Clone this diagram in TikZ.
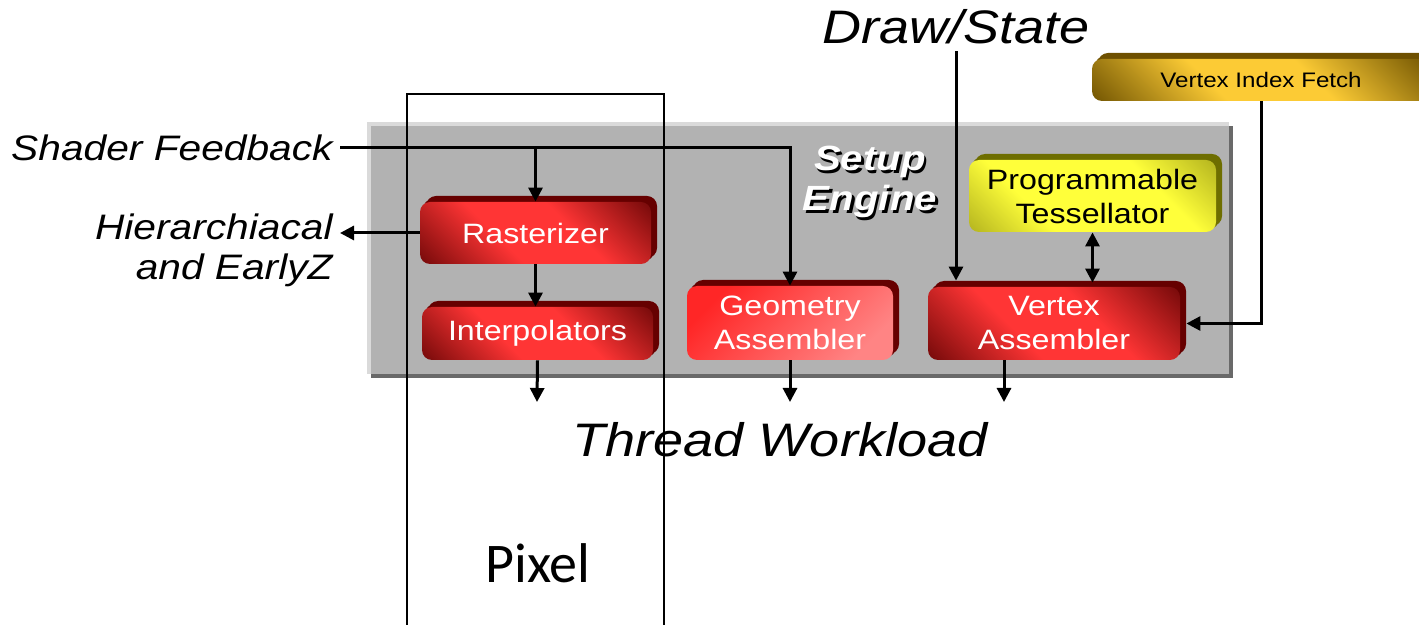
\documentclass[tikz,border=0pt]{standalone}
\usepackage{fontspec}
\setmainfont[FakeStretch=1.15]{Liberation Sans}
\newfontfamily\pixelfont{Carlito}
\usetikzlibrary{arrows.meta,shadows}

\definecolor{panelgray}{RGB}{178, 178, 178}
\definecolor{panellight}{RGB}{218, 218, 218}
\definecolor{paneldark}{RGB}{105, 105, 105}
\definecolor{redbright}{RGB}{255, 53, 53}
\definecolor{reddark}{RGB}{125, 12, 12}
\definecolor{reddepth}{RGB}{102, 0, 0}
\definecolor{redlight}{RGB}{255, 38, 38}
\definecolor{pinklight}{RGB}{255, 132, 132}
\definecolor{yellowbright}{RGB}{255, 255, 58}
\definecolor{yellowdark}{RGB}{178, 178, 30}
\definecolor{yellowdepth}{RGB}{110, 110, 0}
\definecolor{goldbright}{RGB}{252, 203, 53}
\definecolor{golddark}{RGB}{122, 92, 5}
\definecolor{golddepth}{RGB}{110, 80, 0}

\pgfdeclareverticalshading{redglow}{100bp}{color(0bp)=(reddark); color(16bp)=(reddark); color(40bp)=(redbright); color(60bp)=(redbright); color(84bp)=(reddark); color(100bp)=(reddark)}
\pgfdeclareverticalshading{yellowglow}{100bp}{color(0bp)=(yellowdark); color(14bp)=(yellowdark); color(34bp)=(yellowbright); color(66bp)=(yellowbright); color(86bp)=(yellowdark); color(100bp)=(yellowdark)}
\pgfdeclareverticalshading{goldglow}{100bp}{color(0bp)=(golddark); color(16bp)=(golddark); color(40bp)=(goldbright); color(60bp)=(goldbright); color(84bp)=(golddark); color(100bp)=(golddark)}

\tikzset{
    conn/.style={line width=1.5pt, -{Triangle[length=7pt, width=7pt]}},
    biconn/.style={line width=1.5pt, {Triangle[length=7pt, width=7pt]}-{Triangle[length=7pt, width=7pt]}},
    block/.style={rounded corners=5pt, inner sep=0pt, align=center, font=\fontsize{14}{17}\selectfont},
    redblock/.style={block, shade, shading=redglow, shading angle=-45, text=white,
        general shadow={fill=reddepth, shadow xshift=1.5pt, shadow yshift=1.5pt},
        general shadow={fill=reddepth, shadow xshift=3pt, shadow yshift=3pt}},
    pinkblock/.style={block, top color=redlight, bottom color=pinklight, shading angle=45, text=white,
        general shadow={fill=reddepth, shadow xshift=1.5pt, shadow yshift=1.5pt},
        general shadow={fill=reddepth, shadow xshift=3pt, shadow yshift=3pt}},
    yellowblock/.style={block, shade, shading=yellowglow, shading angle=-45, text=black,
        general shadow={fill=yellowdepth, shadow xshift=1.5pt, shadow yshift=1.5pt},
        general shadow={fill=yellowdepth, shadow xshift=3pt, shadow yshift=3pt}},
    goldblock/.style={block, shade, shading=goldglow, shading angle=-45, text=black,
        font=\fontsize{10.5}{12}\selectfont,
        general shadow={fill=golddepth, shadow xshift=1.5pt, shadow yshift=1.5pt},
        general shadow={fill=golddepth, shadow xshift=3pt, shadow yshift=3pt}},
    sidetext/.style={font=\fontsize{17.7}{20}\selectfont\itshape, inner sep=3.5pt, align=right},
    bigtext/.style={font=\fontsize{23.5}{27}\selectfont\itshape},
    setuptext/.style={font=\fontsize{17.5}{20}\selectfont\bfseries\itshape, align=center}
}

\begin{document}
\begin{tikzpicture}[x=0.5pt, y=-0.5pt]
                \useasboundingbox (0,0) rectangle (1419,625);
                \clip (0,0) rectangle (1419,625);
                \fill[white] (0,0) rectangle (1419,625);

                \fill[paneldark] (371,126) rectangle (1233,378);
                \fill[panellight] (367,122) rectangle (1229,374);
                \fill[panelgray] (371,126) rectangle (1229,374);

                \draw[line width=0.6pt] (407,94) rectangle (664,640);
                \node[font=\pixelfont\fontsize{28}{32}\selectfont] (pixel) at (538,563) {Pixel};

                \node[setuptext, text=black] (setup-shadow) at (872.5,184.5) {Setup\\Engine};
                \node[setuptext, text=white] (setup) at (870,182) {Setup\\Engine};

                \node[redblock, minimum width=115.5pt, minimum height=31pt] (rast) at (535.5,233) {Rasterizer};
                \node[redblock, minimum width=115.5pt, minimum height=26.5pt] (interp) at (537.5,333.5) {Interpolators};
                \node[pinkblock, minimum width=103pt, minimum height=37pt] (geo) at (790,323) {Geometry\\Assembler};
                \node[redblock, minimum width=126pt, minimum height=36.5pt] (va) at (1054,323.5) {Vertex\\Assembler};
                \node[yellowblock, minimum width=123.5pt, minimum height=36pt] (tess) at (1092.5,196) {Programmable\\Tessellator};
                \node[goldblock, minimum width=169pt, minimum height=21pt] (vif) at (1261,80) {Vertex Index Fetch};

                \node[sidetext, anchor=east] (sf) at (340,148) {Shader Feedback};
                \node[sidetext, anchor=east] (hier) at (340,250) {Hierarchiacal\\and EarlyZ};
                \node[bigtext] (drawst) at (956,27) {Draw/State};
                \node[bigtext] (tw) at (780,440) {Thread Workload};

                \coordinate (out1) at (537,402);
                \coordinate (out2) at (790,402);
                \coordinate (out3) at (1004,402);

                \draw[conn] (sf.east) -| (geo.north);
                \draw[conn] (rast.north |- sf.east) -- (rast.north);
                \draw[conn] (rast.west) -- (rast.west -| hier.east);
                \draw[conn] (rast.south) -- (rast.south |- interp.north);
                \draw[conn, shorten >=3pt] (drawst.south) -- (drawst.south |- va.north);
                \draw[conn, shorten >=3pt] (vif.south) |- (va.east);
                \draw[biconn, shorten >=2pt] (tess.south) -- (tess.south |- va.north);
                \draw[conn] (interp.south) -- (out1);
                \draw[conn] (geo.south) -- (out2);
                \draw[conn] (out3 |- va.south) -- (out3);
            \end{tikzpicture}
\end{document}
